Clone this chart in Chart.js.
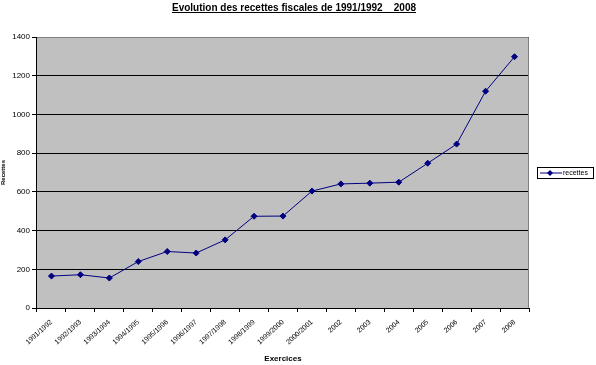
<!DOCTYPE html>
<html>
<head>
<meta charset="utf-8">
<script src="https://cdn.jsdelivr.net/npm/chart.js@4"></script>
<style>
  html, body { margin: 0; padding: 0; background: #fff; }
  #chart { display: block; }
</style>
</head>
<body>
<canvas id="chart" width="596" height="365"></canvas>
<script>
const exercices = ['1991/1992', '1992/1993', '1993/1994', '1994/1995', '1995/1996', '1996/1997',
    '1997/1998', '1998/1999', '1999/2000', '2000/2001', '2002', '2003', '2004', '2005', '2006', '2007', '2008'];
const recettes = [165, 172, 155, 240, 292, 284, 352, 474, 475, 604, 641, 645, 650, 748, 847, 1120, 1298];
const yTicks = [0, 200, 400, 600, 800, 1000, 1200, 1400];
const chartTitle = 'Evolution des recettes fiscales de 1991/1992    2008';

const FONT = '"Liberation Sans", Arial, sans-serif';

// grey plot area + border
const plotBackground = {
    id: 'plotBackground',
    beforeDraw(chart) {
        const { ctx, chartArea: a } = chart;
        ctx.save();
        ctx.fillStyle = '#c0c0c0';
        ctx.fillRect(a.left, a.top, a.right - a.left, a.bottom - a.top);
        ctx.restore();
    },
    afterDatasetsDraw(chart) {
        const { ctx, chartArea: a } = chart;
        ctx.save();
        ctx.strokeStyle = '#808080';
        ctx.lineWidth = 1;
        ctx.beginPath();
        ctx.moveTo(a.left, a.top + 0.5);
        ctx.lineTo(a.right - 0.5, a.top + 0.5);
        ctx.lineTo(a.right - 0.5, a.bottom);
        ctx.stroke();
        ctx.restore();
    }
};

// underlined title, centred like the Excel original
const underlinedTitle = {
    id: 'underlinedTitle',
    afterDraw(chart) {
        const { ctx } = chart;
        ctx.save();
        ctx.font = 'bold 10px ' + FONT;
        ctx.fillStyle = '#000';
        ctx.textAlign = 'center';
        ctx.textBaseline = 'alphabetic';
        const cx = 294, base = 11;
        ctx.fillText(chartTitle, cx, base);
        const w = ctx.measureText(chartTitle).width;
        ctx.strokeStyle = '#000';
        ctx.lineWidth = 1;
        ctx.beginPath();
        ctx.moveTo(cx - w / 2, base + 1.5);
        ctx.lineTo(cx + w / 2, base + 1.5);
        ctx.stroke();
        ctx.restore();
    }
};

// Excel-like boxed legend on the right
const boxLegend = {
    id: 'boxLegend',
    afterDraw(chart) {
        const { ctx } = chart;
        const ds = chart.data.datasets[0];
        const x = 537, y = 167, w = 56, h = 11;
        ctx.save();
        ctx.strokeStyle = '#000';
        ctx.lineWidth = 1;
        ctx.strokeRect(x + 0.5, y + 0.5, w, h);
        const my = y + h / 2 + 0.5;
        ctx.strokeStyle = ds.borderColor;
        ctx.beginPath();
        ctx.moveTo(x + 3, my);
        ctx.lineTo(x + 25, my);
        ctx.stroke();
        ctx.fillStyle = ds.pointBackgroundColor;
        ctx.beginPath();
        ctx.moveTo(x + 13, my - 3);
        ctx.lineTo(x + 16, my);
        ctx.lineTo(x + 13, my + 3);
        ctx.lineTo(x + 10, my);
        ctx.closePath();
        ctx.fill();
        ctx.fillStyle = '#000';
        ctx.font = '7px ' + FONT;
        ctx.textBaseline = 'middle';
        ctx.fillText(ds.label, x + 26, my);
        ctx.restore();
    }
};

new Chart(document.getElementById('chart'), {
    type: 'line',
    data: {
        labels: exercices,
        datasets: [{
            label: 'recettes',
            data: recettes,
            borderColor: '#000080',
            borderWidth: 1,
            backgroundColor: '#000080',
            pointBackgroundColor: '#000080',
            pointBorderColor: '#000080',
            pointStyle: 'rectRot',
            pointRadius: 3,
            tension: 0,
            fill: false
        }]
    },
    options: {
        responsive: false,
        animation: false,
        layout: { padding: { left: 0, right: 67, top: 37, bottom: 1 } },
        plugins: {
            legend: { display: false },
            tooltip: { enabled: false },
            title: { display: false }
        },
        scales: {
            x: {
                type: 'category',
                offset: true,
                grid: {
                    offset: true,
                    drawOnChartArea: false,
                    drawTicks: true,
                    tickLength: 4,
                    color: '#000'
                },
                border: { color: '#000', width: 1 },
                ticks: {
                    color: '#000',
                    font: { family: FONT, size: 7 },
                    minRotation: 42,
                    maxRotation: 42,
                    autoSkip: false,
                    padding: 6
                },
                title: {
                    display: true,
                    text: 'Exercices',
                    color: '#000',
                    font: { family: FONT, size: 8, weight: 'bold' },
                    padding: { top: 2, bottom: 0 }
                }
            },
            y: {
                min: 0,
                max: 1400,
                afterBuildTicks(axis) {
                    axis.ticks = yTicks.map(v => ({ value: v }));
                },
                grid: {
                    color: '#000',
                    lineWidth: 1,
                    drawTicks: true,
                    tickLength: 5
                },
                border: { color: '#000', width: 1 },
                ticks: {
                    color: '#000',
                    font: { family: FONT, size: 8 },
                    padding: 2,
                    callback: v => String(v)
                },
                title: {
                    display: true,
                    text: 'Recettes',
                    color: '#000',
                    font: { family: FONT, size: 6, weight: 'bold' },
                    padding: { top: 0, bottom: 3 }
                }
            }
        }
    },
    plugins: [plotBackground, underlinedTitle, boxLegend]
});
</script>
</body>
</html>
